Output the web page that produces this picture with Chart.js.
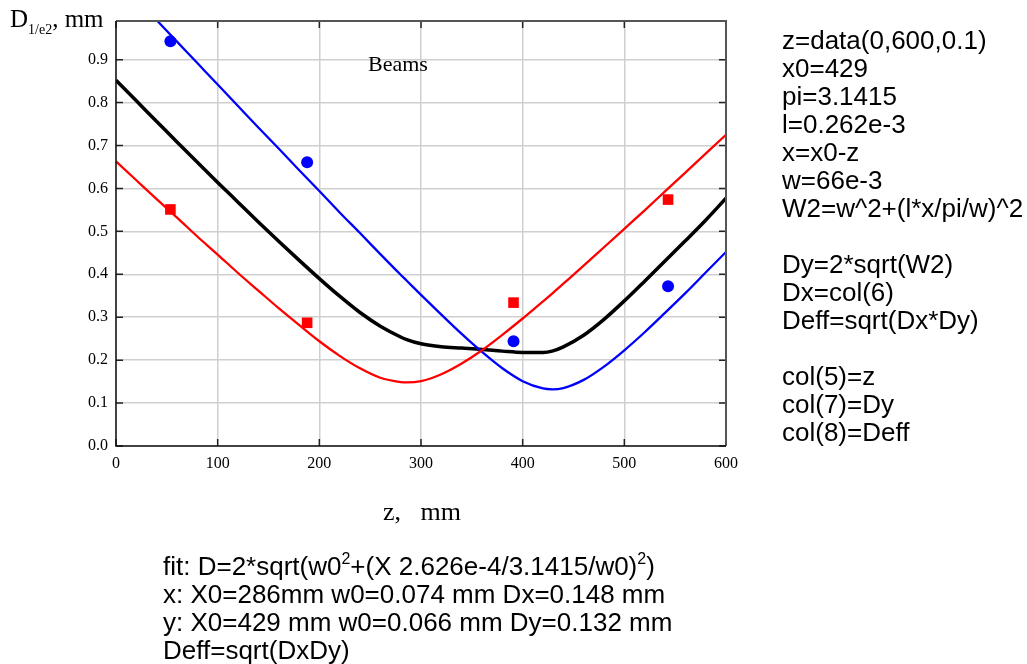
<!DOCTYPE html>
<html>
<head>
<meta charset="utf-8">
<script src="https://cdn.jsdelivr.net/npm/chart.js@4.4.1/dist/chart.umd.min.js"></script>
<style>
  html, body { margin: 0; padding: 0; background: #fff; }
  #wrap { position: relative; width: 1027px; height: 664px; overflow: hidden; }
  #c { position: absolute; left: 0; top: 0; }
  .serif { font-family: "Liberation Serif", "Times New Roman", serif; color: #000; position: absolute; white-space: pre; }
  .sans { font-family: "Liberation Sans", Arial, sans-serif; color: #000; position: absolute; white-space: pre; font-size: 26px; line-height: 28px; }
  .sup { font-size: 16px; position: relative; top: -11px; line-height: 0; }
</style>
</head>
<body>
<div id="wrap">
  <canvas id="c" width="1027" height="664"></canvas>
  <div class="serif" style="left:10px; top:6px; font-size:25px; line-height:25px;">D<span style="font-size:14px; position:relative; top:7px;">1/e2</span>, mm</div>
  <div class="serif" style="left:368px; top:53px; font-size:22px; line-height:22px;">Beams</div>
  <div class="serif" style="left:383px; top:499px; font-size:26px; line-height:26px;">z,   mm</div>
  <div class="sans" style="left:782px; top:26px;">z=data(0,600,0.1)
x0=429
pi=3.1415
l=0.262e-3
x=x0-z
w=66e-3
W2=w^2+(l*x/pi/w)^2

Dy=2*sqrt(W2)
Dx=col(6)
Deff=sqrt(Dx*Dy)

col(5)=z
col(7)=Dy
col(8)=Deff</div>
  <div class="sans" style="left:163px; top:552px;">fit: D=2*sqrt(w0<span class="sup">2</span>+(X 2.626e-4/3.1415/w0)<span class="sup">2</span>)
x: X0=286mm w0=0.074 mm Dx=0.148 mm
y: X0=429 mm w0=0.066 mm Dy=0.132 mm
Deff=sqrt(DxDy)</div>
</div>
<script>
// ---- data ----
const zGrid = [0,20,40,60,80,100,120,140,160,180,200,220,240,260,280,286,300,320,340,360,380,400,420,429,440,460,480,500,520,540,560,580,600];
const dxFit = [0.663,0.619,0.575,0.532,0.488,0.446,0.403,0.362,0.321,0.282,0.244,0.210,0.181,0.159,0.149,0.148,0.151,0.167,0.192,0.223,0.259,0.297,0.337,0.355,0.378,0.420,0.463,0.506,0.549,0.593,0.637,0.681,0.725];
const dyFit = [1.092,1.042,0.992,0.942,0.892,0.842,0.792,0.742,0.693,0.643,0.594,0.544,0.496,0.447,0.399,0.385,0.352,0.306,0.261,0.219,0.181,0.151,0.134,0.132,0.135,0.154,0.185,0.223,0.265,0.310,0.356,0.404,0.452];
const deffFit = [0.852,0.804,0.756,0.708,0.661,0.614,0.568,0.522,0.477,0.433,0.390,0.349,0.311,0.279,0.254,0.248,0.238,0.231,0.228,0.225,0.221,0.218,0.218,0.221,0.231,0.258,0.295,0.338,0.384,0.431,0.478,0.526,0.577];
const zMeas = [53.5,188,391,543];
const dxMeas = [0.551,0.287,0.334,0.574];
const dyMeas = [0.943,0.661,0.244,0.372];
const xTicks = [0,100,200,300,400,500,600];
const yTicks = [0,0.1,0.2,0.3,0.4,0.5,0.6,0.7,0.8,0.9];

const pts = (xs, ys) => xs.map((x, i) => ({x: x, y: ys[i]}));

const boxPlugin = {
  id: 'box',
  afterDraw(chart) {
    const {ctx, chartArea: a, scales: {x, y}} = chart;
    ctx.save();
    ctx.strokeStyle = '#222';
    ctx.lineWidth = 1.5;
    const L = 7;
    ctx.beginPath();
    xTicks.forEach(v => {
      const px = x.getPixelForValue(v);
      ctx.moveTo(px, a.bottom); ctx.lineTo(px, a.bottom - L);
      ctx.moveTo(px, a.top); ctx.lineTo(px, a.top + L);
    });
    yTicks.forEach(v => {
      const py = y.getPixelForValue(v);
      ctx.moveTo(a.left, py); ctx.lineTo(a.left + L, py);
      ctx.moveTo(a.right, py); ctx.lineTo(a.right - L, py);
    });
    ctx.stroke();
    ctx.strokeStyle = '#555';
    ctx.lineWidth = 2;
    ctx.beginPath();
    ctx.moveTo(a.left, a.top); ctx.lineTo(a.right, a.top); ctx.lineTo(a.right, a.bottom);
    ctx.stroke();
    ctx.strokeStyle = '#111';
    ctx.lineWidth = 1.5;
    ctx.beginPath();
    ctx.moveTo(a.left, a.top); ctx.lineTo(a.left, a.bottom); ctx.lineTo(a.right, a.bottom);
    ctx.stroke();
    ctx.restore();
  }
};

const tickFont = {family: '"Liberation Serif", "Times New Roman", serif', size: 16};

new Chart(document.getElementById('c'), {
  type: 'scatter',
  data: {
    datasets: [
      {data: pts(zGrid, dxFit), showLine: true, borderColor: '#ff0000', borderWidth: 2.3, pointRadius: 0, cubicInterpolationMode: 'monotone'},
      {data: pts(zGrid, dyFit), showLine: true, borderColor: '#0000ff', borderWidth: 2.3, pointRadius: 0, cubicInterpolationMode: 'monotone'},
      {data: pts(zGrid, deffFit), showLine: true, borderColor: '#000000', borderWidth: 3.5, pointRadius: 0, cubicInterpolationMode: 'monotone'},
      {data: pts(zMeas, dxMeas), showLine: false, pointStyle: 'rect', pointRadius: 7.5, backgroundColor: '#ff0000', borderColor: '#ff0000', borderWidth: 0},
      {data: pts(zMeas, dyMeas), showLine: false, pointStyle: 'circle', pointRadius: 6, backgroundColor: '#0000ff', borderColor: '#0000ff', borderWidth: 0}
    ]
  },
  options: {
    responsive: false,
    animation: false,
    layout: {padding: {top: 21, right: 301, left: 0, bottom: 0}},
    plugins: {legend: {display: false}, tooltip: {enabled: false}},
    scales: {
      x: {
        type: 'linear', min: 0, max: 600,
        afterBuildTicks: s => { s.ticks = xTicks.map(v => ({value: v})); },
        afterFit: s => { s.height = 218; },
        ticks: {color: '#000', font: tickFont, padding: 8, maxRotation: 0},
        grid: {color: '#cfcfcf', lineWidth: 1.5, drawTicks: false},
        border: {display: false}
      },
      y: {
        type: 'linear', min: 0, max: 0.99,
        afterBuildTicks: s => { s.ticks = yTicks.map(v => ({value: v})); },
        afterFit: s => { s.width = 116; },
        ticks: {color: '#000', font: tickFont, padding: 8, callback: v => v.toFixed(1)},
        grid: {color: '#cfcfcf', lineWidth: 1.5, drawTicks: false},
        border: {display: false}
      }
    }
  },
  plugins: [boxPlugin]
});
</script>
</body>
</html>
